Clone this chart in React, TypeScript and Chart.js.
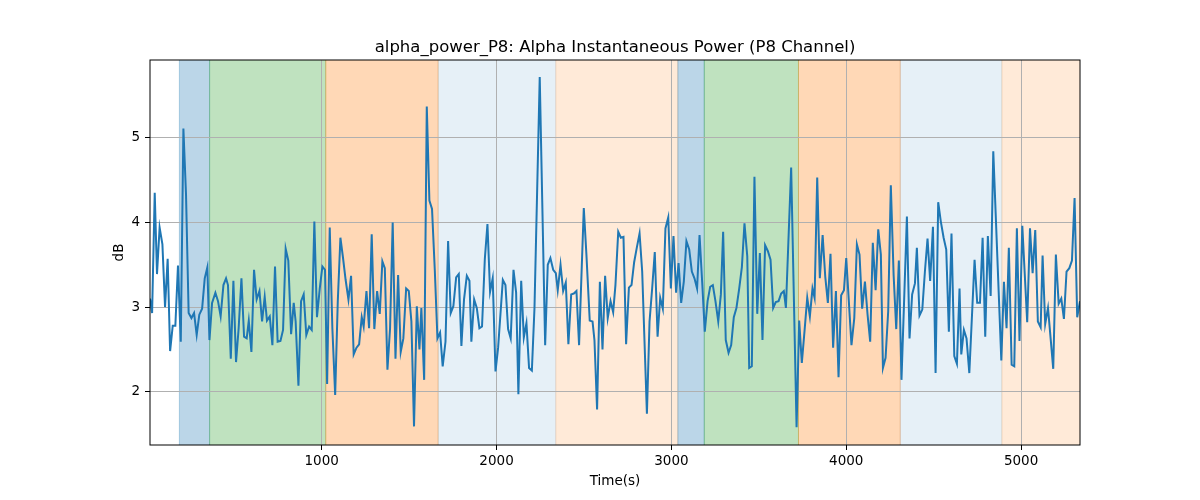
import { Chart, registerables } from 'chart.js';
import { useEffect, useRef } from 'react';

Chart.register(...registerables);

const chartTitle = 'alpha_power_P8: Alpha Instantaneous Power (P8 Channel)';
const xLabel = 'Time(s)';
const yLabel = 'dB';

const xTicks = [1000, 2000, 3000, 4000, 5000];
const yTicks = [2, 3, 4, 5];
const xMin = 18;
const xMax = 5337;
const yMin = 1.37;
const yMax = 5.92;

// time (s) of each sample
const timeSec = [
	18, 30, 45, 58, 73, 89, 104, 119, 133, 148, 163, 178, 194, 209, 224, 239, 255, 270, 285, 300,
	316, 331, 346, 358, 373, 392, 407, 422, 438, 453, 464, 480, 495, 510, 525, 541, 556, 571, 583, 598,
	613, 628, 644, 659, 674, 687, 703, 718, 733, 748, 764, 779, 794, 809, 825, 840, 851, 867, 882, 897,
	912, 928, 943, 958, 973, 989, 1004, 1019, 1031, 1046, 1061, 1077, 1092, 1107, 1122, 1137, 1153, 1168, 1183, 1199,
	1214, 1229, 1240, 1256, 1271, 1286, 1301, 1317, 1332, 1347, 1361, 1376, 1391, 1406, 1422, 1437, 1452, 1467, 1483, 1498,
	1513, 1528, 1544, 1559, 1570, 1586, 1601, 1616, 1631, 1647, 1662, 1677, 1692, 1708, 1723, 1738, 1753, 1769, 1784, 1799,
	1814, 1830, 1845, 1856, 1872, 1887, 1902, 1917, 1933, 1948, 1963, 1978, 1994, 2009, 2036, 2051, 2066, 2081, 2097, 2112,
	2125, 2141, 2156, 2171, 2186, 2202, 2217, 2247, 2278, 2293, 2308, 2324, 2339, 2350, 2366, 2381, 2396, 2411, 2427, 2442,
	2457, 2472, 2499, 2514, 2533, 2549, 2560, 2575, 2591, 2606, 2621, 2636, 2652, 2667, 2680, 2696, 2711, 2726, 2741, 2757,
	2772, 2787, 2802, 2818, 2833, 2860, 2875, 2890, 2905, 2921, 2936, 2951, 2966, 2982, 2997, 3012, 3027, 3041, 3056, 3071,
	3086, 3102, 3117, 3132, 3147, 3161, 3176, 3191, 3207, 3222, 3237, 3252, 3268, 3283, 3296, 3311, 3327, 3342, 3357, 3372,
	3388, 3403, 3418, 3434, 3445, 3460, 3475, 3491, 3506, 3521, 3536, 3552, 3567, 3582, 3597, 3613, 3628, 3643, 3655, 3685,
	3716, 3731, 3746, 3762, 3777, 3792, 3807, 3819, 3834, 3849, 3865, 3880, 3895, 3910, 3925, 3941, 3956, 3971, 3987, 4000,
	4030, 4046, 4061, 4076, 4091, 4107, 4122, 4137, 4152, 4168, 4183, 4198, 4210, 4225, 4240, 4255, 4271, 4286, 4301, 4316,
	4347, 4362, 4377, 4393, 4404, 4419, 4435, 4450, 4465, 4480, 4496, 4511, 4526, 4541, 4557, 4572, 4587, 4602, 4618, 4633,
	4648, 4658, 4673, 4688, 4704, 4734, 4749, 4765, 4780, 4795, 4810, 4826, 4841, 4887, 4902, 4917, 4930, 4946, 4961, 4976,
	4991, 5007, 5035, 5051, 5066, 5081, 5096, 5112, 5123, 5138, 5154, 5184, 5199, 5215, 5230, 5245, 5260, 5276, 5291, 5306,
	5321, 5337,
];

// alpha power (dB) at each sample
const powerDb = [
	3.1, 2.93, 4.35, 3.39, 3.94, 3.74, 3.0, 3.57, 2.48, 2.78, 2.78, 3.49, 2.59, 5.11, 4.33, 2.93, 2.87, 2.93, 2.67, 2.91,
	2.98, 3.34, 3.47, 2.61, 3.05, 3.17, 3.07, 2.89, 3.26, 3.34, 3.26, 2.39, 3.31, 2.35, 2.75, 3.34, 2.65, 2.63, 2.84, 2.47,
	3.44, 3.09, 3.19, 2.83, 3.12, 2.84, 2.89, 2.55, 3.48, 2.59, 2.6, 2.73, 3.69, 3.55, 2.68, 3.05, 2.83, 2.07, 3.07, 3.15,
	2.67, 2.77, 2.73, 4.01, 2.88, 3.22, 3.48, 3.44, 2.09, 3.94, 2.75, 1.96, 3.07, 3.82, 3.58, 3.32, 3.09, 3.37, 2.44, 2.52,
	2.56, 2.88, 2.77, 3.19, 2.75, 3.86, 2.74, 3.19, 2.92, 3.54, 3.46, 2.26, 2.75, 4.0, 2.39, 3.38, 2.47, 2.63, 3.22, 3.19,
	2.83, 1.59, 3.01, 2.5, 2.99, 2.14, 5.37, 4.26, 4.16, 3.43, 2.63, 2.7, 2.3, 2.59, 3.78, 2.93, 3.01, 3.35, 3.39, 2.54,
	3.09, 3.37, 3.31, 2.59, 3.09, 2.99, 2.75, 2.77, 3.57, 3.98, 3.18, 3.34, 2.24, 2.52, 3.32, 3.26, 2.74, 2.63, 3.44, 3.17,
	1.97, 3.31, 2.64, 2.81, 2.28, 2.25, 2.99, 5.72, 2.55, 3.5, 3.58, 3.44, 3.4, 3.2, 3.5, 3.19, 3.29, 2.56, 3.15, 3.16,
	3.19, 2.55, 4.17, 3.62, 2.84, 2.83, 2.61, 1.79, 3.3, 2.5, 3.37, 2.87, 3.07, 2.94, 3.26, 3.89, 3.82, 3.83, 2.56, 3.23,
	3.26, 3.53, 3.7, 3.87, 3.42, 1.74, 2.83, 3.22, 3.65, 2.65, 3.11, 2.98, 3.93, 4.06, 3.22, 3.84, 3.17, 3.52, 3.05, 3.3,
	3.78, 3.68, 3.42, 3.34, 3.22, 3.85, 3.3, 2.71, 3.07, 3.24, 3.26, 3.07, 2.83, 3.15, 3.89, 2.61, 2.46, 2.55, 2.88, 2.99,
	3.22, 3.47, 3.99, 3.6, 2.28, 2.3, 4.54, 2.92, 3.64, 2.61, 3.73, 3.66, 3.56, 2.99, 3.06, 3.07, 3.16, 3.19, 2.99, 4.65,
	1.58, 2.84, 2.34, 2.73, 3.11, 2.89, 3.22, 3.11, 4.53, 3.34, 3.85, 3.36, 3.05, 3.63, 2.52, 3.19, 2.17, 3.14, 3.2, 3.58,
	2.55, 2.87, 3.74, 3.62, 2.98, 3.3, 2.91, 2.59, 3.76, 3.2, 3.92, 3.62, 2.28, 2.4, 2.95, 4.44, 3.38, 2.74, 3.55, 2.14,
	4.07, 2.63, 3.15, 3.28, 3.7, 2.9, 2.97, 3.42, 3.81, 3.31, 3.95, 2.22, 4.24, 4.01, 3.82, 3.68, 2.71, 3.87, 2.42, 2.33,
	3.22, 2.44, 2.73, 2.63, 2.22, 3.56, 3.05, 3.05, 3.82, 2.65, 3.84, 3.13, 4.84, 2.37, 3.3, 2.75, 3.7, 2.32, 2.3, 3.93,
	2.6, 3.96, 2.82, 3.93, 3.4, 3.91, 2.83, 2.76, 3.61, 2.8, 2.99, 2.27, 3.62, 3.04, 3.1, 2.86, 3.42, 3.46, 3.55, 4.29,
	2.88, 3.07,
];

// shaded segments
const spanStart = [186, 359, 1023, 1666, 2339, 3037, 3188, 3727, 4309, 4890];
const spanEnd = [359, 1023, 1666, 2339, 3037, 3188, 3727, 4309, 4890, 5337];
const spanKind = ['blue', 'green', 'orange', 'lightblue', 'lightorange', 'blue', 'green', 'orange', 'lightblue', 'lightorange'];

const spanColors: Record<string, string> = {
	blue: 'rgba(31,119,180,0.3)',
	green: 'rgba(44,160,44,0.3)',
	orange: 'rgba(255,127,14,0.3)',
	lightblue: 'rgba(31,119,180,0.11)',
	lightorange: 'rgba(255,127,14,0.16)',
};

const FONT = '"DejaVu Sans", sans-serif';

const spanPlugin = {
	id: 'spans',
	beforeDraw(chart: Chart) {
		const { ctx, chartArea, scales } = chart;
		const x = scales.x;
		ctx.save();
		spanStart.forEach((s, i) => {
			const x0 = Math.max(x.getPixelForValue(s), chartArea.left);
			const x1 = Math.min(x.getPixelForValue(spanEnd[i]), chartArea.right);
			ctx.fillStyle = spanColors[spanKind[i]];
			ctx.fillRect(x0, chartArea.top, x1 - x0, chartArea.bottom - chartArea.top);
			ctx.strokeStyle = spanColors[spanKind[i]];
			ctx.lineWidth = 1;
			ctx.beginPath();
			ctx.moveTo(x0, chartArea.top);
			ctx.lineTo(x0, chartArea.bottom);
			if (x1 < chartArea.right) {
				ctx.moveTo(x1, chartArea.top);
				ctx.lineTo(x1, chartArea.bottom);
			}
			ctx.stroke();
		});
		ctx.restore();
	},
};

const framePlugin = {
	id: 'frame',
	afterDraw(chart: Chart) {
		const { ctx, chartArea } = chart;
		const { left, right, top, bottom } = chartArea;
		ctx.save();
		ctx.strokeStyle = '#000';
		ctx.lineWidth = 1;
		ctx.strokeRect(left, top, right - left, bottom - top);

		ctx.fillStyle = '#000';
		ctx.textAlign = 'center';
		ctx.font = `16.5px ${FONT}`;
		ctx.textBaseline = 'alphabetic';
		ctx.fillText(chartTitle, (left + right) / 2, 52);

		ctx.font = `13.5px ${FONT}`;
		ctx.textBaseline = 'middle';
		ctx.fillText(xLabel, (left + right) / 2, 481);

		ctx.translate(119, (top + bottom) / 2);
		ctx.rotate(-Math.PI / 2);
		ctx.fillText(yLabel, 0, 0);
		ctx.restore();
	},
};

export default function App() {
	const canvasRef = useRef<HTMLCanvasElement | null>(null);
	const chartRef = useRef<Chart | null>(null);

	useEffect(() => {
		if (!canvasRef.current) return;
		const ctx = canvasRef.current.getContext('2d');
		if (!ctx) return;

		chartRef.current = new Chart(ctx, {
			type: 'line',
			data: {
				datasets: [
					{
						label: 'alpha_power_P8',
						data: timeSec.map((t, i) => ({ x: t, y: powerDb[i] })),
						borderColor: '#1f77b4',
						backgroundColor: '#1f77b4',
						borderWidth: 2,
						pointRadius: 0,
						tension: 0,
						fill: false,
					},
				],
			},
			options: {
				animation: false,
				responsive: true,
				maintainAspectRatio: false,
				layout: { padding: { top: 60, right: 120, left: 0, bottom: 0 } },
				scales: {
					x: {
						type: 'linear',
						min: xMin,
						max: xMax,
						afterBuildTicks: (s) => {
							s.ticks = xTicks.map((v) => ({ value: v }));
						},
						afterFit: (s) => {
							s.height = 55;
						},
						border: { display: false },
						grid: { color: '#b0b0b0', lineWidth: 1, tickColor: '#000', tickLength: 5 },
						ticks: {
							color: '#000',
							font: { family: FONT, size: 13.5 },
							padding: 3,
							maxRotation: 0,
							callback: (v) => String(v),
						},
					},
					y: {
						type: 'linear',
						min: yMin,
						max: yMax,
						afterBuildTicks: (s) => {
							s.ticks = yTicks.map((v) => ({ value: v }));
						},
						afterFit: (s) => {
							s.width = 150;
						},
						border: { display: false },
						grid: { color: '#b0b0b0', lineWidth: 1, tickColor: '#000', tickLength: 5 },
						ticks: {
							color: '#000',
							font: { family: FONT, size: 13.5 },
							padding: 5,
							callback: (v) => String(v),
						},
					},
				},
				plugins: {
					legend: { display: false },
					tooltip: { enabled: false },
					title: { display: false },
				},
			},
			plugins: [spanPlugin, framePlugin],
		});

		return () => {
			if (chartRef.current) {
				chartRef.current.destroy();
				chartRef.current = null;
			}
		};
	}, []);

	return (
		<div style={{ position: 'fixed', left: 0, top: 0, width: '1200px', height: '500px', background: '#fff' }}>
			<canvas ref={canvasRef}></canvas>
		</div>
	);
}
